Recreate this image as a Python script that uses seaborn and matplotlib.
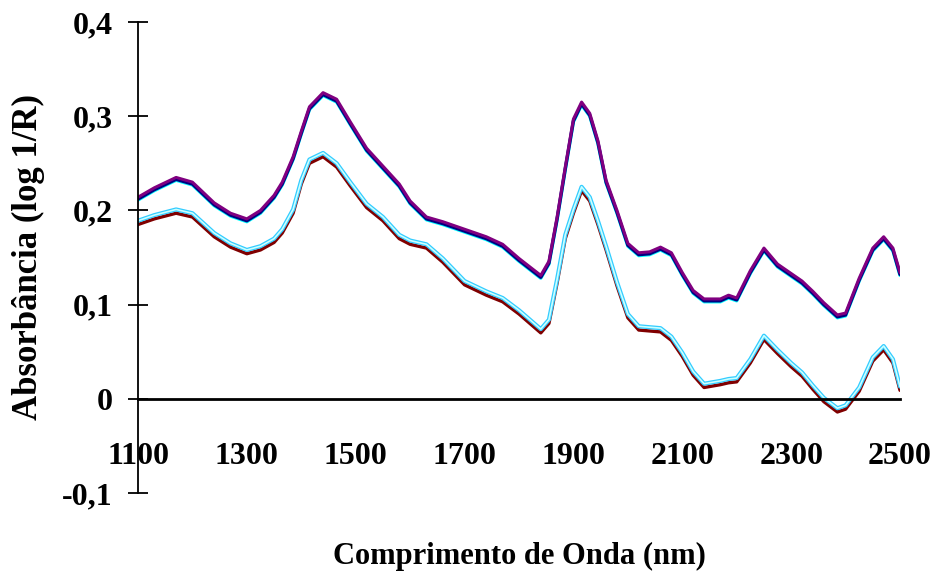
import matplotlib
matplotlib.use("Agg")
import matplotlib.pyplot as plt
import seaborn as sns
import pandas as pd

# ---- data ----
wavelength = [1100, 1130, 1170, 1200, 1240, 1270, 1300, 1325, 1350, 1365, 1385, 1400, 1415, 1440,
              1465, 1490, 1520, 1550, 1580, 1600, 1630, 1660, 1700, 1740, 1770, 1800, 1820, 1840,
              1855, 1870, 1885, 1900, 1915, 1930, 1945, 1960, 1980, 2000, 2020, 2040, 2060, 2080,
              2100, 2120, 2140, 2170, 2185, 2200, 2225, 2250, 2275, 2300, 2320, 2340, 2360, 2385,
              2400, 2425, 2450, 2470, 2487, 2500]

upper_purple = [0.214, 0.224, 0.235, 0.230, 0.208, 0.197, 0.191,
                0.200, 0.216, 0.230, 0.257, 0.284, 0.310, 0.325,
                0.318, 0.294, 0.266, 0.247, 0.228, 0.210, 0.193,
                0.188, 0.180, 0.172, 0.164, 0.149, 0.140, 0.131,
                0.146, 0.193, 0.246, 0.297, 0.315, 0.303, 0.274,
                0.232, 0.200, 0.165, 0.155, 0.156, 0.161, 0.155,
                0.134, 0.115, 0.106, 0.106, 0.110, 0.107, 0.136,
                0.160, 0.143, 0.133, 0.125, 0.114, 0.102, 0.089,
                0.091, 0.128, 0.160, 0.172, 0.160, 0.134]

upper_navy = [0.212, 0.222, 0.233, 0.228, 0.206, 0.195, 0.189,
              0.198, 0.214, 0.228, 0.255, 0.282, 0.308, 0.323,
              0.316, 0.292, 0.264, 0.245, 0.226, 0.208, 0.191,
              0.186, 0.178, 0.170, 0.162, 0.147, 0.138, 0.129,
              0.144, 0.191, 0.244, 0.295, 0.313, 0.301, 0.272,
              0.230, 0.198, 0.163, 0.153, 0.154, 0.159, 0.153,
              0.132, 0.113, 0.104, 0.104, 0.108, 0.105, 0.134,
              0.158, 0.141, 0.131, 0.123, 0.112, 0.100, 0.087,
              0.089, 0.126, 0.158, 0.170, 0.158, 0.132]

upper_cyan = [0.211, 0.221, 0.232, 0.227, 0.205, 0.194, 0.188,
              0.197, 0.213, 0.227, 0.254, 0.281, 0.307, 0.322,
              0.315, 0.291, 0.263, 0.244, 0.225, 0.207, 0.190,
              0.185, 0.177, 0.169, 0.161, 0.146, 0.137, 0.128,
              0.143, 0.190, 0.243, 0.294, 0.312, 0.300, 0.271,
              0.229, 0.197, 0.162, 0.152, 0.153, 0.158, 0.152,
              0.131, 0.112, 0.103, 0.103, 0.107, 0.104, 0.133,
              0.157, 0.140, 0.130, 0.122, 0.111, 0.099, 0.086,
              0.088, 0.125, 0.157, 0.169, 0.157, 0.131]

lower_red = [0.185, 0.191, 0.197, 0.193, 0.172, 0.161, 0.154,
             0.158, 0.166, 0.176, 0.197, 0.228, 0.250, 0.257,
             0.246, 0.226, 0.203, 0.189, 0.170, 0.164, 0.160,
             0.145, 0.121, 0.110, 0.103, 0.090, 0.080, 0.070,
             0.080, 0.123, 0.170, 0.197, 0.221, 0.210, 0.185,
             0.158, 0.120, 0.086, 0.073, 0.072, 0.071, 0.062,
             0.045, 0.025, 0.012, 0.015, 0.017, 0.018, 0.038,
             0.063, 0.048, 0.034, 0.024, 0.010, -0.003, -0.014,
             -0.011, 0.008, 0.040, 0.052, 0.038, 0.009]

lower_cyan = [0.189, 0.195, 0.201, 0.197, 0.176, 0.165, 0.158,
              0.162, 0.170, 0.180, 0.201, 0.232, 0.254, 0.261,
              0.250, 0.230, 0.207, 0.193, 0.174, 0.168, 0.164,
              0.149, 0.125, 0.114, 0.107, 0.094, 0.084, 0.074,
              0.084, 0.127, 0.174, 0.201, 0.225, 0.214, 0.189,
              0.162, 0.124, 0.090, 0.077, 0.076, 0.075, 0.066,
              0.049, 0.029, 0.016, 0.019, 0.021, 0.022, 0.042,
              0.067, 0.052, 0.038, 0.028, 0.014, 0.001, -0.010,
              -0.007, 0.012, 0.044, 0.056, 0.042, 0.013]

x_ticks = [1100, 1300, 1500, 1700, 1900, 2100, 2300, 2500]
x_tick_labels = ["1100", "1300", "1500", "1700", "1900", "2100", "2300", "2500"]
y_ticks = [-0.1, 0, 0.1, 0.2, 0.3, 0.4]
y_tick_labels = ["-0,1", "0", "0,1", "0,2", "0,3", "0,4"]

# ---- style ----
sns.set_style("white")
plt.rcParams["font.family"] = ["Liberation Serif", "DejaVu Serif"]
plt.rcParams["font.weight"] = "bold"
plt.rcParams["text.color"] = "black"
plt.rcParams["axes.labelcolor"] = "black"
plt.rcParams["xtick.color"] = "black"
plt.rcParams["ytick.color"] = "black"

fig = plt.figure(figsize=(9.36, 5.8), dpi=100)
ax = fig.add_axes([138 / 936, 1 - 493 / 580, 762 / 936, 471 / 580])

series = [
    (lower_red, "#800000", 2.4),
    (lower_cyan, "#33CCFF", 3.0),
    (lower_cyan, "#CCFFFF", 1.2),
    (upper_cyan, "#00FFFF", 2.4),
    (upper_navy, "#000080", 2.4),
    (upper_purple, "#800080", 2.2),
]
for vals, col, lw in series:
    sns.lineplot(x=wavelength, y=vals, color=col, linewidth=lw, ax=ax, legend=False)

ax.set_xlim(1100, 2500)
ax.set_ylim(-0.1, 0.4)

for s in ["top", "right"]:
    ax.spines[s].set_visible(False)
ax.spines["bottom"].set_position(("data", 0))
ax.spines["bottom"].set_linewidth(2.0)
ax.spines["bottom"].set_color("black")
ax.spines["left"].set_linewidth(1.3)
ax.spines["left"].set_color("black")

ax.set_xticks(x_ticks)
ax.set_xticklabels(x_tick_labels)
ax.set_yticks(y_ticks)
ax.set_yticklabels(y_tick_labels)
ax.tick_params(axis="x", length=0, pad=31, labelsize=23, labelcolor="black")
ax.tick_params(axis="y", direction="inout", length=14.4, width=1.3, pad=11, labelsize=23,
               left=True, color="black", labelcolor="black")
for lab in ax.get_xticklabels() + ax.get_yticklabels():
    lab.set_fontweight("bold")

ax.set_xlabel("Comprimento de Onda (nm)", fontsize=22, fontweight="bold", color="black")
ax.xaxis.set_label_coords(0.5, -0.134)
ax.xaxis.label.set_va("center")
ax.set_ylabel("Absorbância (log 1/R)", fontsize=25, fontweight="bold", color="black")
ax.yaxis.set_label_coords(-0.144, 0.5)
ax.yaxis.label.set_va("center")

fig.savefig("out.png", dpi=100)
